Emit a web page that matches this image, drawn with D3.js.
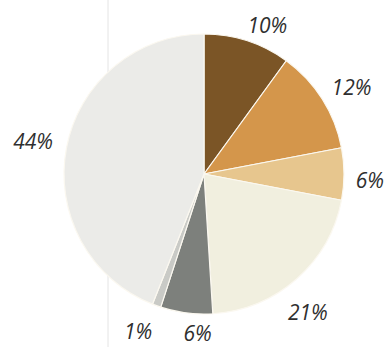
<!DOCTYPE html>
<html>
<head>
<meta charset="utf-8">
<script src="https://cdn.jsdelivr.net/npm/d3@7"></script>
<style>
  body { margin: 0; background: #fff; }
  svg { display: block; }
</style>
</head>
<body>
<div id="root"></div>
<script>
const width = 390;
const height = 347;

// slices, clockwise from 12 o'clock
const labels = ["10%", "12%", "6%", "21%", "6%", "1%", "44%"];
const values = [10, 12, 6, 21, 6, 1, 44];
const colors = ["#7b5526", "#d4964b", "#e7c68e", "#f1efdf", "#7d807c", "#c9cac6", "#ebebe8"];

// label placement: angle nudge (degrees) and distance from centre
const labelNudge = [5, 2, 2, 4.5, -5, 3, 0];
const labelDist = [162, 171, 166, 173, 166, 170, 174];

const cx = 204, cy = 174, radius = 140;

const svg = d3.select("#root").append("svg")
  .attr("width", width)
  .attr("height", height);

// faint scan line on the left
svg.append("line")
  .attr("x1", 108).attr("x2", 108)
  .attr("y1", 0).attr("y2", height)
  .attr("stroke", "#e4e4e4")
  .attr("stroke-width", 1);

const pie = d3.pie().sort(null).value(d => d);
const arcs = pie(values);

const arc = d3.arc().innerRadius(0).outerRadius(radius);

const g = svg.append("g").attr("transform", `translate(${cx},${cy})`);

g.selectAll("path")
  .data(arcs)
  .enter()
  .append("path")
  .attr("d", arc)
  .attr("fill", (d, i) => colors[i])
  .attr("stroke", "#fbf8f0")
  .attr("stroke-width", 1.2)
  .attr("stroke-linejoin", "round");

g.selectAll("text")
  .data(arcs)
  .enter()
  .append("text")
  .attr("transform", (d, i) => {
    const a = (d.startAngle + d.endAngle) / 2 + labelNudge[i] * Math.PI / 180;
    const x = Math.sin(a) * labelDist[i];
    const y = Math.min(-Math.cos(a) * labelDist[i], height - cy - 14);   // keep inside the frame
    return `translate(${x},${y})`;
  })
  .attr("text-anchor", "middle")
  .attr("dominant-baseline", "central")
  .attr("font-family", "Open Sans")
  .attr("font-style", "italic")
  .attr("font-size", "21px")
  .attr("fill", "#2f2f2f")
  .text((d, i) => labels[i]);
</script>
</body>
</html>
